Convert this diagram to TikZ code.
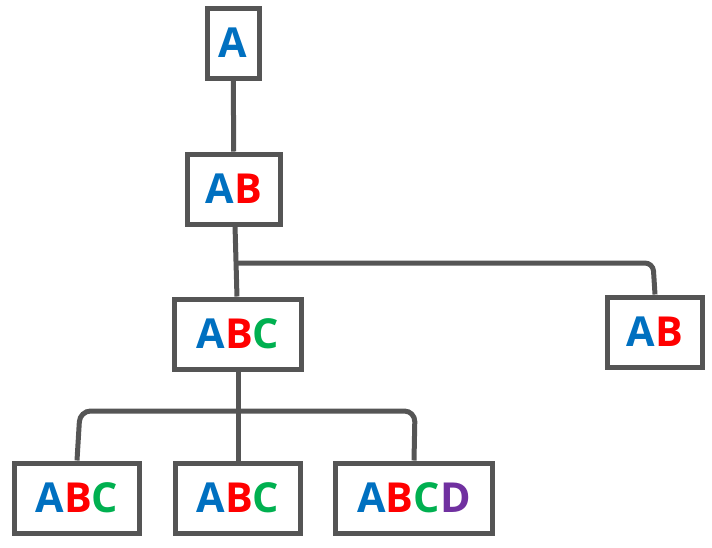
\documentclass[tikz,border=0pt]{standalone}
\usepackage{fontspec}
\setmainfont{Open Sans}
\definecolor{cA}{RGB}{0,112,192}
\definecolor{cB}{RGB}{255,0,0}
\definecolor{cC}{RGB}{0,176,80}
\definecolor{cD}{RGB}{112,48,160}
\definecolor{edge}{RGB}{85,85,85}
\newcommand{\la}{\textcolor{cA}{A}}
\newcommand{\lb}{\textcolor{cB}{B}}
\newcommand{\lc}{\textcolor{cC}{C}}
\newcommand{\ld}{\textcolor{cD}{D}}
\tikzset{every picture/.style={line width=3.75pt}}
\tikzset{blk/.style={draw=edge, fill=white, inner sep=0pt, minimum height=52.5pt, font=\fontsize{31}{31}\selectfont\bfseries}}
\begin{document}
\begin{tikzpicture}[x=0.75pt,y=0.75pt,yscale=-1,xscale=1]
\useasboundingbox (0,0) rectangle (712,547);

%Nodes
\node [blk, minimum width=39pt] (a) at (233,43) {\la};
\node [blk, minimum width=70pt] (ab) at (234,189) {\la\lb};
\node [blk, minimum width=95pt] (abc) at (238,334) {\la\lb\lc};
\node [blk, minimum width=71pt] (abr) at (655,332) {\la\lb};
\node [blk, minimum width=94pt] (abc1) at (77,498) {\la\lb\lc};
\node [blk, minimum width=94pt] (abc2) at (238,498) {\la\lb\lc};
\node [blk, minimum width=118pt] (abcd) at (414,498) {\la\lb\lc\ld};

%Connectors
\draw [edge] (a) -- (ab);
\draw [edge] (ab) -- (abc);
\draw [edge, rounded corners=6pt] (238,263) -- (653,263) -- (abr.north);
\draw [edge] (abc) -- (abc2);
\draw [edge, rounded corners=8pt] (abc1.north) -- (80,411) -- (415,411) -- (abcd.north);

\end{tikzpicture}
\end{document}
